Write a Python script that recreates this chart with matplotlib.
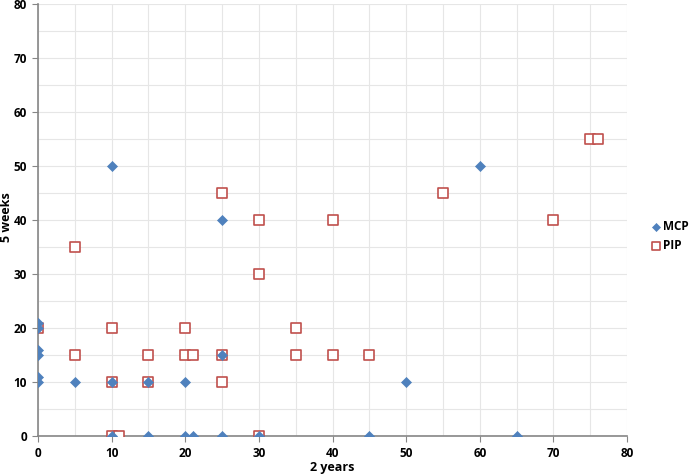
import matplotlib
matplotlib.use("Agg")
import matplotlib.pyplot as plt
from matplotlib.ticker import MultipleLocator

plt.rcParams['font.family'] = ['Open Sans', 'DejaVu Sans']
plt.rcParams['font.weight'] = 'bold'

mcp_x = [0, 0, 0, 0, 0, 0, 5, 10, 10, 10, 15, 15, 20, 20, 21, 25, 25, 25, 30, 45, 50, 60, 65]
mcp_y = [10, 11, 15, 16, 20, 21, 10, 50, 10, 0, 10, 0, 10, 0, 0, 40, 15, 0, 0, 0, 10, 50, 0]

pip_x = [0, 5, 5, 10, 10, 10, 11, 15, 15, 20, 20, 21, 25, 25, 25, 30, 30, 30, 35, 35, 40, 40, 45, 55, 70, 75, 76]
pip_y = [20, 35, 15, 20, 10, 0, 0, 15, 10, 20, 15, 15, 45, 15, 10, 40, 30, 0, 20, 15, 40, 15, 15, 45, 40, 55, 55]

W, H = 690, 476
L, R, T, B = 38, 627, 4, 436
fig = plt.figure(figsize=(W/100, H/100), dpi=100)
ax = fig.add_axes([L/W, 1 - B/H, (R-L)/W, (B-T)/H])

ax.scatter(pip_x, pip_y, marker='s', s=48, facecolors='white', edgecolors='#C0504D',
           linewidths=1.2, label='PIP', zorder=3)
ax.scatter(mcp_x, mcp_y, marker='D', s=26, color='#4F81BD', edgecolors='#4F81BD',
           linewidths=0.5, label='MCP', zorder=4)

ax.set_xlim(0, 80)
ax.set_ylim(0, 80)
ax.xaxis.set_major_locator(MultipleLocator(10))
ax.yaxis.set_major_locator(MultipleLocator(10))
ax.xaxis.set_minor_locator(MultipleLocator(5))
ax.yaxis.set_minor_locator(MultipleLocator(5))
ax.grid(True, which='both', color='#E6E6E6', linewidth=0.8, zorder=0)
ax.set_axisbelow(True)

for s in ['top', 'right']:
    ax.spines[s].set_visible(False)
for s in ['left', 'bottom']:
    ax.spines[s].set_color('#868686')
    ax.spines[s].set_linewidth(1.2)
ax.tick_params(which='major', length=4, color='#868686', labelsize=8.5, pad=4)
ax.tick_params(which='minor', length=0)
for lbl in ax.get_xticklabels() + ax.get_yticklabels():
    lbl.set_fontweight('bold')

ax.set_xlabel('2 years', fontsize=9, fontweight='bold')
ax.set_ylabel('5 weeks', fontsize=9, fontweight='bold')
ax.xaxis.set_label_coords(0.5, -(468 - B) / (B - T))
ax.xaxis.label.set_va('center')
ax.yaxis.set_label_coords(-(L - 7) / (R - L), (B - 217) / (B - T))
ax.yaxis.label.set_va('center')

handles, labels = ax.get_legend_handles_labels()
order = [1, 0]
leg = fig.legend([handles[i] for i in order], [labels[i] for i in order],
                 loc='center left', bbox_to_anchor=(651/W, 1 - 236/H),
                 frameon=False, prop={'weight': 'bold', 'size': 8.5},
                 handletextpad=0.1, labelspacing=0.45, handlelength=0.9,
                 markerscale=0.8, borderaxespad=0, borderpad=0)

fig.savefig('out.png', dpi=100)
